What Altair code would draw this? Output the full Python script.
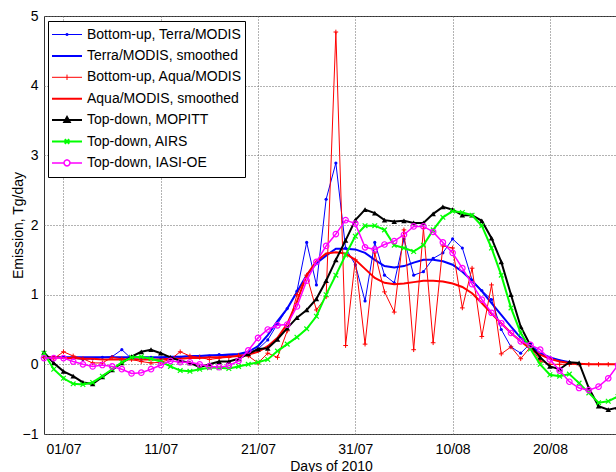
import altair as alt
import pandas as pd
import math

FONT = "Liberation Sans"

# ---- data (day offset 0 = 01/07/2010) ----
day_start = -2
series_names = [
    "Bottom-up, Terra/MODIS",
    "Terra/MODIS, smoothed",
    "Bottom-up, Aqua/MODIS",
    "Aqua/MODIS, smoothed",
    "Top-down, MOPITT",
    "Top-down, AIRS",
    "Top-down, IASI-OE",
]
colors = ["#0000ff", "#0000ff", "#ff0000", "#ff0000", "#000000", "#00ff00", "#ff00ff"]

terra_raw = [0.10, 0.10, 0.10, 0.09, 0.07, 0.08, 0.10, 0.11, 0.21, 0.08, 0.07, 0.10, 0.09,
             0.08, 0.10, 0.11, 0.12, 0.12, 0.14, 0.12, 0.14, 0.16, 0.22, 0.35, 0.58, 0.80,
             1.05, 1.75, 1.14, 2.37, 2.89, 1.67, 1.43, 0.91, 1.75, 1.28, 1.17, 1.80, 1.28,
             1.33, 1.52, 1.60, 1.80, 1.67, 1.21, 1.06, 0.93, 0.50, 0.25, 0.16, 0.30, 0.15,
             0.10, 0.05, 0.03]
terra_smooth = [0.10, 0.10, 0.10, 0.10, 0.10, 0.10, 0.10, 0.10, 0.10, 0.10, 0.10, 0.10, 0.10,
                0.11, 0.11, 0.12, 0.12, 0.13, 0.13, 0.14, 0.15, 0.18, 0.26, 0.42, 0.62, 0.80,
                1.04, 1.28, 1.45, 1.56, 1.66, 1.66, 1.65, 1.60, 1.50, 1.41, 1.39, 1.41, 1.46,
                1.50, 1.50, 1.48, 1.43, 1.33, 1.20, 1.05, 0.88, 0.71, 0.54, 0.38, 0.26, 0.16,
                0.10, 0.06, 0.03]
aqua_raw = [0.10, 0.08, 0.18, 0.12, 0.08, 0.02, 0.02, 0.10, 0.08, 0.07, 0.04, 0.02, 0.03,
            0.07, 0.18, 0.12, 0.10, 0.07, 0.09, 0.10, 0.13, 0.12, 0.02, 0.16, 0.10, 0.48,
            1.00, 1.28, 0.78, 0.97, 4.77, 0.27, 1.50, 0.29, 1.60, 1.04, 0.75, 1.93, 0.21,
            1.95, 0.31, 1.70, 1.67, 0.81, 1.38, 0.40, 1.14, 0.15, 0.25, 0.08, 0.25, 0.05,
            0.00, 0.00, 0.00, 0.00, 0.00, 0.00, 0.00, 0.00]
aqua_smooth = [0.10, 0.10, 0.09, 0.09, 0.08, 0.08, 0.07, 0.07, 0.07, 0.07, 0.07, 0.07, 0.07,
               0.08, 0.08, 0.09, 0.09, 0.10, 0.10, 0.11, 0.12, 0.14, 0.18, 0.26, 0.38, 0.58,
               0.90, 1.28, 1.48, 1.59, 1.61, 1.59, 1.50, 1.37, 1.24, 1.17, 1.15, 1.16, 1.18,
               1.20, 1.20, 1.19, 1.16, 1.11, 1.02, 0.88, 0.73, 0.59, 0.45, 0.33, 0.22, 0.14,
               0.08, 0.04, 0.02, 0.01, 0.00, 0.00, 0.00, 0.00]
mopitt = [0.17, 0.02, -0.10, -0.17, -0.26, -0.28, -0.18, -0.08, 0.02, 0.11, 0.18, 0.21, 0.16,
          0.10, 0.05, 0.02, -0.04, 0.00, 0.04, 0.04, 0.08, 0.15, 0.22, 0.23, 0.36, 0.52,
          0.67, 0.78, 0.94, 1.20, 1.50, 1.78, 2.07, 2.22, 2.17, 2.07, 2.05, 2.06, 2.03,
          2.03, 2.16, 2.26, 2.22, 2.14, 2.14, 2.06, 1.81, 1.47, 1.00, 0.54, 0.27, 0.10,
          -0.03, -0.07, 0.03, 0.02, -0.34, -0.60, -0.65, -0.62]
airs = [0.16, -0.07, -0.20, -0.28, -0.29, -0.26, -0.17, -0.07, 0.03, 0.10, 0.11, 0.08, 0.04,
        -0.03, -0.09, -0.10, -0.07, -0.05, -0.05, -0.06, -0.03, 0.00, 0.03, 0.07, 0.19, 0.29,
        0.39, 0.51, 0.69, 1.00, 1.28, 1.57, 1.84, 1.99, 1.99, 1.93, 1.71, 1.67, 1.62, 1.71,
        1.93, 2.11, 2.20, 2.18, 2.14, 1.99, 1.67, 1.28, 0.81, 0.45, 0.22, 0.00, -0.15, -0.17,
        -0.14, -0.27, -0.41, -0.55, -0.53, -0.46]
iasi = [0.09, 0.09, 0.09, 0.04, 0.00, -0.03, -0.01, -0.03, -0.07, -0.13, -0.12, -0.07, -0.01,
        0.05, 0.03, 0.03, 0.00, -0.03, -0.04, -0.02, 0.05, 0.20, 0.38, 0.50, 0.56, 0.57,
        0.83, 1.20, 1.47, 1.70, 1.87, 2.07, 2.02, 1.68, 1.65, 1.72, 1.77, 1.86, 1.98, 1.98,
        1.90, 1.75, 1.60, 1.38, 1.15, 0.93, 0.74, 0.59, 0.45, 0.33, 0.28, 0.21, 0.07, -0.09,
        -0.25, -0.34, -0.37, -0.32, -0.20, -0.01]

series_values = [terra_raw, terra_smooth, aqua_raw, aqua_smooth, mopitt, airs, iasi]

tick_days = [0, 10, 20, 30, 40, 50]
tick_labels = ["01/07", "11/07", "21/07", "31/07", "10/08", "20/08"]
y_ticks = [-1, 0, 1, 2, 3, 4, 5]

rows = []
for name, vals in zip(series_names, series_values):
    for i, v in enumerate(vals):
        rows.append({"series": name, "day": day_start + i, "value": v})
df = pd.DataFrame(rows)

label_expr = " : ".join(
    f"datum.value == {d} ? '{t}'" for d, t in zip(tick_days, tick_labels)
) + " : ''"

X = alt.X(
    "day:Q",
    scale=alt.Scale(domain=[-2, 57], nice=False, zero=False),
    axis=alt.Axis(
        values=tick_days, labelExpr=label_expr, title="Days of 2010",
        grid=True, gridColor="#666", gridDash=[1, 2], gridWidth=1,
        ticks=False, domain=False, labelFont=FONT, titleFont=FONT,
        labelFontSize=14, titleFontSize=14, labelColor="#000", titleColor="#000",
        titleFontWeight="normal", labelPadding=8, titlePadding=3,
    ),
)
Y = alt.Y(
    "value:Q",
    scale=alt.Scale(domain=[-1, 5], nice=False, zero=False),
    axis=alt.Axis(
        values=y_ticks, title="Emission, Tg/day", format="d",
        grid=True, gridColor="#666", gridDash=[1, 2], gridWidth=1,
        ticks=False, domain=False, labelFont=FONT, titleFont=FONT,
        labelFontSize=14, titleFontSize=14, labelColor="#000", titleColor="#000",
        titleFontWeight="normal", labelPadding=6, titleX=-19,
    ),
)

base = alt.Chart(df)

line_widths = [1, 2, 1, 2, 2, 2, 1.5]
marker_specs = [
    dict(shape="circle", filled=True, size=10, strokeWidth=0),
    None,
    dict(shape="M-1,0L1,0M0,-1L0,1", filled=False, size=22, strokeWidth=1),
    None,
    dict(shape="triangle-up", filled=True, size=30, strokeWidth=0),
    dict(shape="M-1,-1L1,1M-1,1L1,-1", filled=False, size=22, strokeWidth=1.2),
    dict(shape="circle", filled=False, size=30, strokeWidth=1.2),
]

layers = []
for name, col, lw, mk in zip(series_names, colors, line_widths, marker_specs):
    sub = base.transform_filter(alt.datum.series == name)
    layers.append(sub.mark_line(color=col, strokeWidth=lw).encode(x=X, y=Y))
    if mk is not None:
        layers.append(sub.mark_point(color=col, opacity=1, **mk).encode(x=X, y=Y))

# legend symbols: line segment + marker, in [-1,1] units (symbol 30 px wide)
circ = "M" + "L".join(
    f"{0.2*math.cos(a*math.pi/6):.3f},{0.2*math.sin(a*math.pi/6):.3f}" for a in range(12)
) + "Z"
legend_paths = [
    "M-1,0L1,0M-0.06,-0.06L0.06,-0.06L0.06,0.06L-0.06,0.06Z",
    "M-1,0L1,0",
    "M-1,0L1,0M0,-0.18L0,0.18",
    "M-1,0L1,0",
    "M-1,0L1,0M0,-0.2L0.18,0.12L-0.18,0.12Z",
    "M-1,0L1,0M-0.15,-0.15L0.15,0.15M-0.15,0.15L0.15,-0.15",
    "M-1,0L-0.2,0M0.2,0L1,0" + circ,
]

leg = alt.Legend(
    title=None, orient="none", legendX=4, legendY=5, padding=3,
    strokeColor="#000", fillColor="#fff", labelFont=FONT, labelFontSize=14,
    labelColor="#000", clipHeight=21, rowPadding=0.4, labelOffset=4,
    symbolOpacity=1, symbolSize=900,
)
legend_layer = base.transform_filter("false").mark_point(
    filled=False, size=900, opacity=1
).encode(
    x=X, y=Y,
    color=alt.Color("series:N", scale=alt.Scale(domain=series_names, range=colors), legend=leg, sort=None),
    shape=alt.Shape("series:N", scale=alt.Scale(domain=series_names, range=legend_paths), legend=leg, sort=None),
    strokeWidth=alt.StrokeWidth("series:N", scale=alt.Scale(type="ordinal", domain=series_names, range=line_widths), legend=leg, sort=None),
)

chart = alt.layer(*layers, legend_layer).properties(
    width=574, height=418,
    padding={"left": 44, "top": 16, "right": -2, "bottom": 38},
    autosize=alt.AutoSizeParams(type="none"),
    background="#ffffff",
).configure_view(stroke="#333", strokeWidth=1)

chart.save("out.html", embed_options={"renderer": "svg", "actions": False})
